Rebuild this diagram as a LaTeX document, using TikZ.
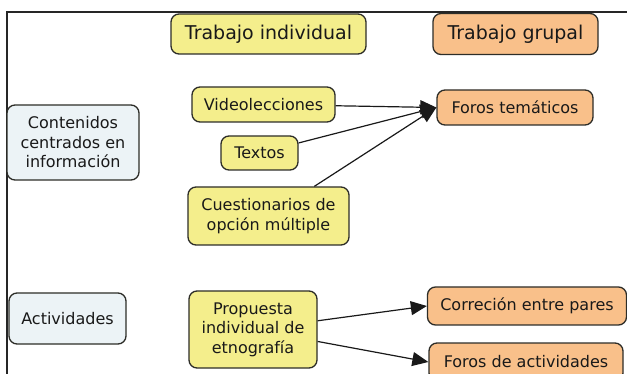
\documentclass[tikz,border=0pt]{standalone}
\usepackage{fontspec}
\setmainfont{DejaVu Sans}
\usepackage{xcolor}
\usetikzlibrary{arrows.meta}

\definecolor{amarillo}{RGB}{244,238,140}
\definecolor{naranja}{RGB}{249,192,138}
\definecolor{celeste}{RGB}{236,243,246}
\definecolor{borde}{RGB}{45,45,40}

\begin{document}
\begin{tikzpicture}[
  x=1pt, y=-1pt,
  every node/.style={draw=borde, line width=1.3pt, rounded corners=8pt,
    align=center, inner sep=0pt, text=black!90,
    font=\fontsize{16}{19.5}\selectfont},
  indiv/.style={fill=amarillo},
  grupo/.style={fill=naranja},
  tema/.style={fill=celeste},
  titulo/.style={font=\fontsize{19}{22}\selectfont},
  flecha/.style={-{Triangle[length=16pt,width=14pt]}, line width=1.2pt, black!90}
]
\useasboundingbox (0,0) rectangle (627,374);
\draw[line width=1.2pt, black!85] (627,12) -- (7,12) -- (7,374);

% encabezados
\node[indiv, titulo, minimum width=195, minimum height=40] (tind) at (268.5,34) {Trabajo individual};
\node[grupo, titulo, minimum width=165, minimum height=41] (tgrp) at (515.5,34) {Trabajo grupal};

% contenidos
\node[tema, minimum width=132, minimum height=75] (cont) at (73,142.5) {Contenidos\\centrados en\\información};
\node[indiv, minimum width=143, minimum height=35] (video) at (263.5,104.5) {Videolecciones};
\node[indiv, minimum width=77, minimum height=34] (textos) at (259.5,153) {Textos};
\node[indiv, minimum width=161, minimum height=58] (cuest) at (268.5,216) {Cuestionarios de\\opción múltiple};
\node[grupo, minimum width=156, minimum height=35] (foros) at (515,107.5) {Foros temáticos};

% actividades
\node[tema, minimum width=117, minimum height=51] (activ) at (67.5,318.5) {Actividades};
\node[indiv, minimum width=128, minimum height=77] (prop) at (253,329.5) {Propuesta\\individual de\\etnografía};
\node[grupo, minimum width=199, minimum height=38] (corr) at (527,306) {Correción entre pares};
\node[grupo, minimum width=194, minimum height=38] (fact) at (526,362) {Foros de actividades};

\draw[flecha] (video) -- (foros.west);
\draw[flecha] (textos) -- (foros.west);
\draw[flecha] (cuest) -- (foros.west);
\draw[flecha] (prop) -- (corr.west);
\draw[flecha] (prop) -- (fact.west);
\end{tikzpicture}
\end{document}
